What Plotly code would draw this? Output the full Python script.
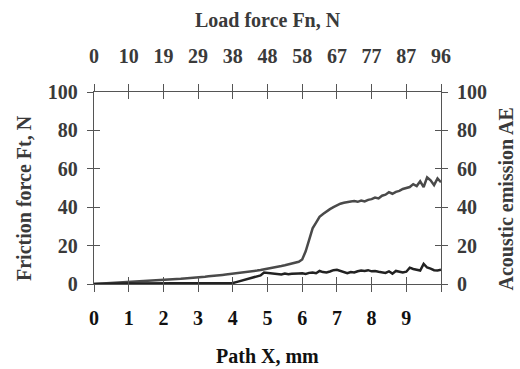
import plotly.graph_objects as go

path_x = [round(i * 0.1, 1) for i in range(101)]

friction_ft = [
    0.0, 0.1, 0.2, 0.3, 0.4, 0.5, 0.5, 0.6, 0.7, 0.8,
    0.9, 1.0, 1.1, 1.2, 1.3, 1.4, 1.5, 1.6, 1.8, 1.9,
    2.0, 2.2, 2.3, 2.4, 2.6, 2.7, 2.9, 3.0, 3.2, 3.3,
    3.5, 3.6, 3.8, 4.0, 4.1, 4.3, 4.5, 4.7, 4.9, 5.1,
    5.3, 5.5, 5.7, 5.9, 6.2, 6.4, 6.7, 7.0, 7.3, 7.6,
    8.0, 8.3, 8.7, 9.0, 9.4, 9.8, 10.2, 10.6, 11.1, 11.6,
    12.8, 17.0, 23.0, 29.0, 32.0, 35.0, 36.5, 38.0, 39.0, 40.0,
    41.0, 41.8, 42.3, 42.8, 43.0, 43.2, 42.8, 43.5, 43.0, 43.8,
    44.2, 45.0, 44.6, 46.0, 46.5, 47.8, 47.0, 48.0, 48.5, 49.5,
    50.0, 50.5, 52.0, 51.0, 53.5, 50.5, 55.5, 54.0, 51.5, 55.0,
    53.0,
]

acoustic_ae = [
    0.0, 0.1, 0.1, 0.2, 0.2, 0.2, 0.3, 0.3, 0.3, 0.3,
    0.3, 0.3, 0.3, 0.3, 0.3, 0.3, 0.3, 0.3, 0.3, 0.3,
    0.3, 0.3, 0.3, 0.3, 0.3, 0.3, 0.3, 0.3, 0.3, 0.3,
    0.3, 0.3, 0.3, 0.3, 0.3, 0.3, 0.3, 0.3, 0.3, 0.3,
    0.5, 1.0, 1.5, 2.0, 2.5, 3.0, 3.5, 4.0, 4.5, 6.0,
    5.8, 5.5, 5.3, 5.2, 5.0, 5.4, 5.1, 5.3, 5.6, 5.5,
    5.6, 5.2, 5.8, 6.0, 5.6, 6.8, 6.2, 6.0, 6.5, 7.2,
    7.4, 6.8, 6.0, 5.6, 6.2, 6.0, 6.6, 7.0, 6.8, 7.2,
    6.6, 6.8, 6.4, 6.0, 5.8, 6.6, 5.4, 6.8, 6.2, 6.0,
    6.4, 8.5, 7.8, 7.2, 7.0, 10.5, 8.6, 8.0, 7.2, 7.0,
    7.4,
]

x_tickvals = [0, 1, 2, 3, 4, 5, 6, 7, 8, 9, 10]
x_ticktext = ["0", "1", "2", "3", "4", "5", "6", "7", "8", "9", ""]
load_ticktext = ["0", "10", "19", "29", "38", "48", "58", "67", "77", "87", "96"]
y_tickvals = [0, 20, 40, 60, 80, 100]

FONT = "Liberation Serif"
TXT = "#3a3a3a"
DARK = "#111111"
AX = "#555555"
fsize = 20

fig = go.Figure()
fig.add_trace(go.Scatter(x=path_x, y=friction_ft, mode="lines",
                         line=dict(color="#4a4a4a", width=2.5),
                         xaxis="x", yaxis="y", showlegend=False))
fig.add_trace(go.Scatter(x=path_x, y=acoustic_ae, mode="lines",
                         line=dict(color="#222222", width=2.5),
                         xaxis="x", yaxis="y2", showlegend=False))
fig.add_trace(go.Scatter(x=[], y=[], xaxis="x3", yaxis="y3", showlegend=False))
fig.add_trace(go.Scatter(x=[], y=[], xaxis="x2", yaxis="y", showlegend=False))

tickfont = dict(family=FONT, size=fsize, color=TXT, weight="bold")
tickfont_dark = dict(family=FONT, size=fsize, color=DARK, weight="bold")
common = dict(showgrid=False, zeroline=False, automargin=False)

fig.update_layout(
    width=520, height=369,
    margin=dict(l=94, r=79, t=92, b=85),
    paper_bgcolor="white", plot_bgcolor="white",
    font=dict(family=FONT, size=fsize, color=TXT),
    xaxis=dict(range=[0, 10], tickvals=x_tickvals, ticktext=x_ticktext,
               ticks="outside", ticklen=7, tickcolor=AX, tickwidth=1.2,
               mirror="ticks", showline=True, linecolor=AX, linewidth=1.3,
               tickfont=tickfont_dark, ticklabelstandoff=9, **common),
    xaxis3=dict(range=[0, 10], tickvals=x_tickvals, overlaying="x", anchor="y3",
                ticks="inside", ticklen=7, tickcolor=AX, tickwidth=1.2,
                mirror="ticks", showline=False, showticklabels=False, **common),
    xaxis2=dict(range=[0, 10], tickvals=x_tickvals, ticktext=load_ticktext,
                overlaying="x", side="top", anchor="y",
                ticks="outside", ticklen=20, tickcolor="rgba(0,0,0,0)",
                showline=False, tickfont=tickfont, **common),
    yaxis=dict(range=[0, 100], tickvals=y_tickvals,
               ticks="outside", ticklen=6, tickcolor=AX, tickwidth=1.2,
               mirror="ticks", showline=True, linecolor=AX, linewidth=1.3,
               tickfont=tickfont, ticklabelstandoff=5, **common),
    yaxis3=dict(range=[0, 100], tickvals=y_tickvals, overlaying="y", anchor="x3",
                ticks="inside", ticklen=6, tickcolor=AX, tickwidth=1.2,
                mirror="ticks", showline=False, showticklabels=False, **common),
    yaxis2=dict(range=[0, 100], tickvals=y_tickvals, overlaying="y", side="right",
                anchor="x", ticks="outside", ticklen=6, tickcolor=AX, tickwidth=1.2,
                showline=False, tickfont=tickfont, ticklabelstandoff=5, **common),
)

ann_font = dict(family=FONT, size=fsize, color=TXT)
fig.add_annotation(text="<b>Load force Fn, N</b>", xref="paper", yref="paper",
                   x=0.5, y=1.0, yshift=72, xanchor="center", yanchor="middle",
                   showarrow=False, font=ann_font)
fig.add_annotation(text="<b>Friction force Ft, N</b>", xref="paper", yref="paper",
                   x=0.0, xshift=-70, y=0.448, xanchor="center", yanchor="middle",
                   textangle=-90, showarrow=False, font=ann_font)
fig.add_annotation(text="<b>Acoustic emission AE</b>", xref="paper", yref="paper",
                   x=1.0, xshift=65, y=0.44, xanchor="center", yanchor="middle",
                   textangle=-90, showarrow=False, font=ann_font)
fig.add_annotation(text="<b>Path X, mm</b>", xref="paper", yref="paper",
                   x=0.5, y=0.0, yshift=-72, xanchor="center", yanchor="middle",
                   showarrow=False, font=dict(family=FONT, size=fsize, color=DARK))

fig.write_html("out.html", config={"displayModeBar": False},
               post_script="document.body.style.margin='0';")
